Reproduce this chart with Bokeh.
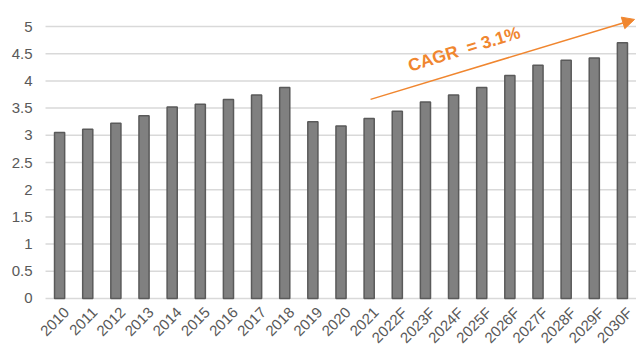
import math
from bokeh.plotting import figure
from bokeh.models import ColumnDataSource, Range1d, Arrow, NormalHead, Label
from bokeh.core.properties import value
from bokeh.embed import file_html
from bokeh.resources import INLINE

# Annual values, actuals through 2021 and forecasts (F) to 2030
years = ["2010", "2011", "2012", "2013", "2014", "2015", "2016", "2017", "2018",
         "2019", "2020", "2021", "2022F", "2023F", "2024F", "2025F", "2026F",
         "2027F", "2028F", "2029F", "2030F"]
values = [3.05, 3.11, 3.22, 3.36, 3.52, 3.57, 3.66, 3.74, 3.88,
          3.25, 3.17, 3.31, 3.44, 3.61, 3.74, 3.88, 4.10,
          4.29, 4.38, 4.42, 4.70]
y_ticks = [0, 0.5, 1, 1.5, 2, 2.5, 3, 3.5, 4, 4.5, 5]
cagr_text = "CAGR\u00a0\u00a0= 3.1%"

GRAY_TEXT = "#595959"
GRID = "#D9D9D9"
ORANGE = "#F0862F"
FONT = "Liberation Sans"

n = len(years)
pos = list(range(n))
bars = ColumnDataSource(data=dict(x=pos, years=years, values=values,
                                  label_y=[-0.21] * n))
ticks = ColumnDataSource(data=dict(
    y=y_ticks,
    text=[f"{t:g}" for t in y_ticks],
    x0=[-0.5] * len(y_ticks),
    x1=[n - 0.5] * len(y_ticks),
))

# The frame fills the whole canvas; the category axis runs from -0.5 to n-0.5,
# with room on the left for the value labels and below zero for the slanted year labels.
p = figure(
    width=636, height=345,
    x_range=Range1d(-2.1, n - 0.5),
    y_range=Range1d(-0.864, 5.478),
    x_axis_location=None, y_axis_location=None,
    output_backend="svg", toolbar_location=None,
    min_border=0,
)
p.outline_line_color = None
p.grid.visible = False

# Horizontal gridlines at each value tick
p.segment(x0="x0", x1="x1", y0="y", y1="y", source=ticks,
          line_color=GRID, line_width=1.5)

# Value labels to the left of the gridlines
p.text(x="x0", y="y", text="text", source=ticks, x_offset=-13,
       text_align="right", text_baseline="middle",
       text_color=GRAY_TEXT, text_font=value(FONT), text_font_size="15px")

p.vbar(x="x", top="values", bottom=0, width=0.36, source=bars,
       fill_color="#808080", line_color="#5A5A5A", line_width=1.5)

# Slanted year labels under the zero line
p.text(x="x", y="label_y", text="years", source=bars,
       angle=math.pi / 4, text_align="right", text_baseline="middle",
       x_offset=7, text_color=GRAY_TEXT, text_font=value(FONT),
       text_font_size="15px")

# Growth trend arrow with its label
p.add_layout(Arrow(
    end=NormalHead(size=12, fill_color=ORANGE, line_color=ORANGE),
    x_start=11.05, y_start=3.66, x_end=20.43, y_end=5.13,
    line_color=ORANGE, line_width=1.5,
))
p.add_layout(Label(
    x=12.5, y=4.10, text=cagr_text, angle=0.297,
    text_color=ORANGE, text_font=FONT, text_font_style="bold",
    text_font_size="17.5px",
))

open("out.html", "w").write(file_html(p, INLINE))
